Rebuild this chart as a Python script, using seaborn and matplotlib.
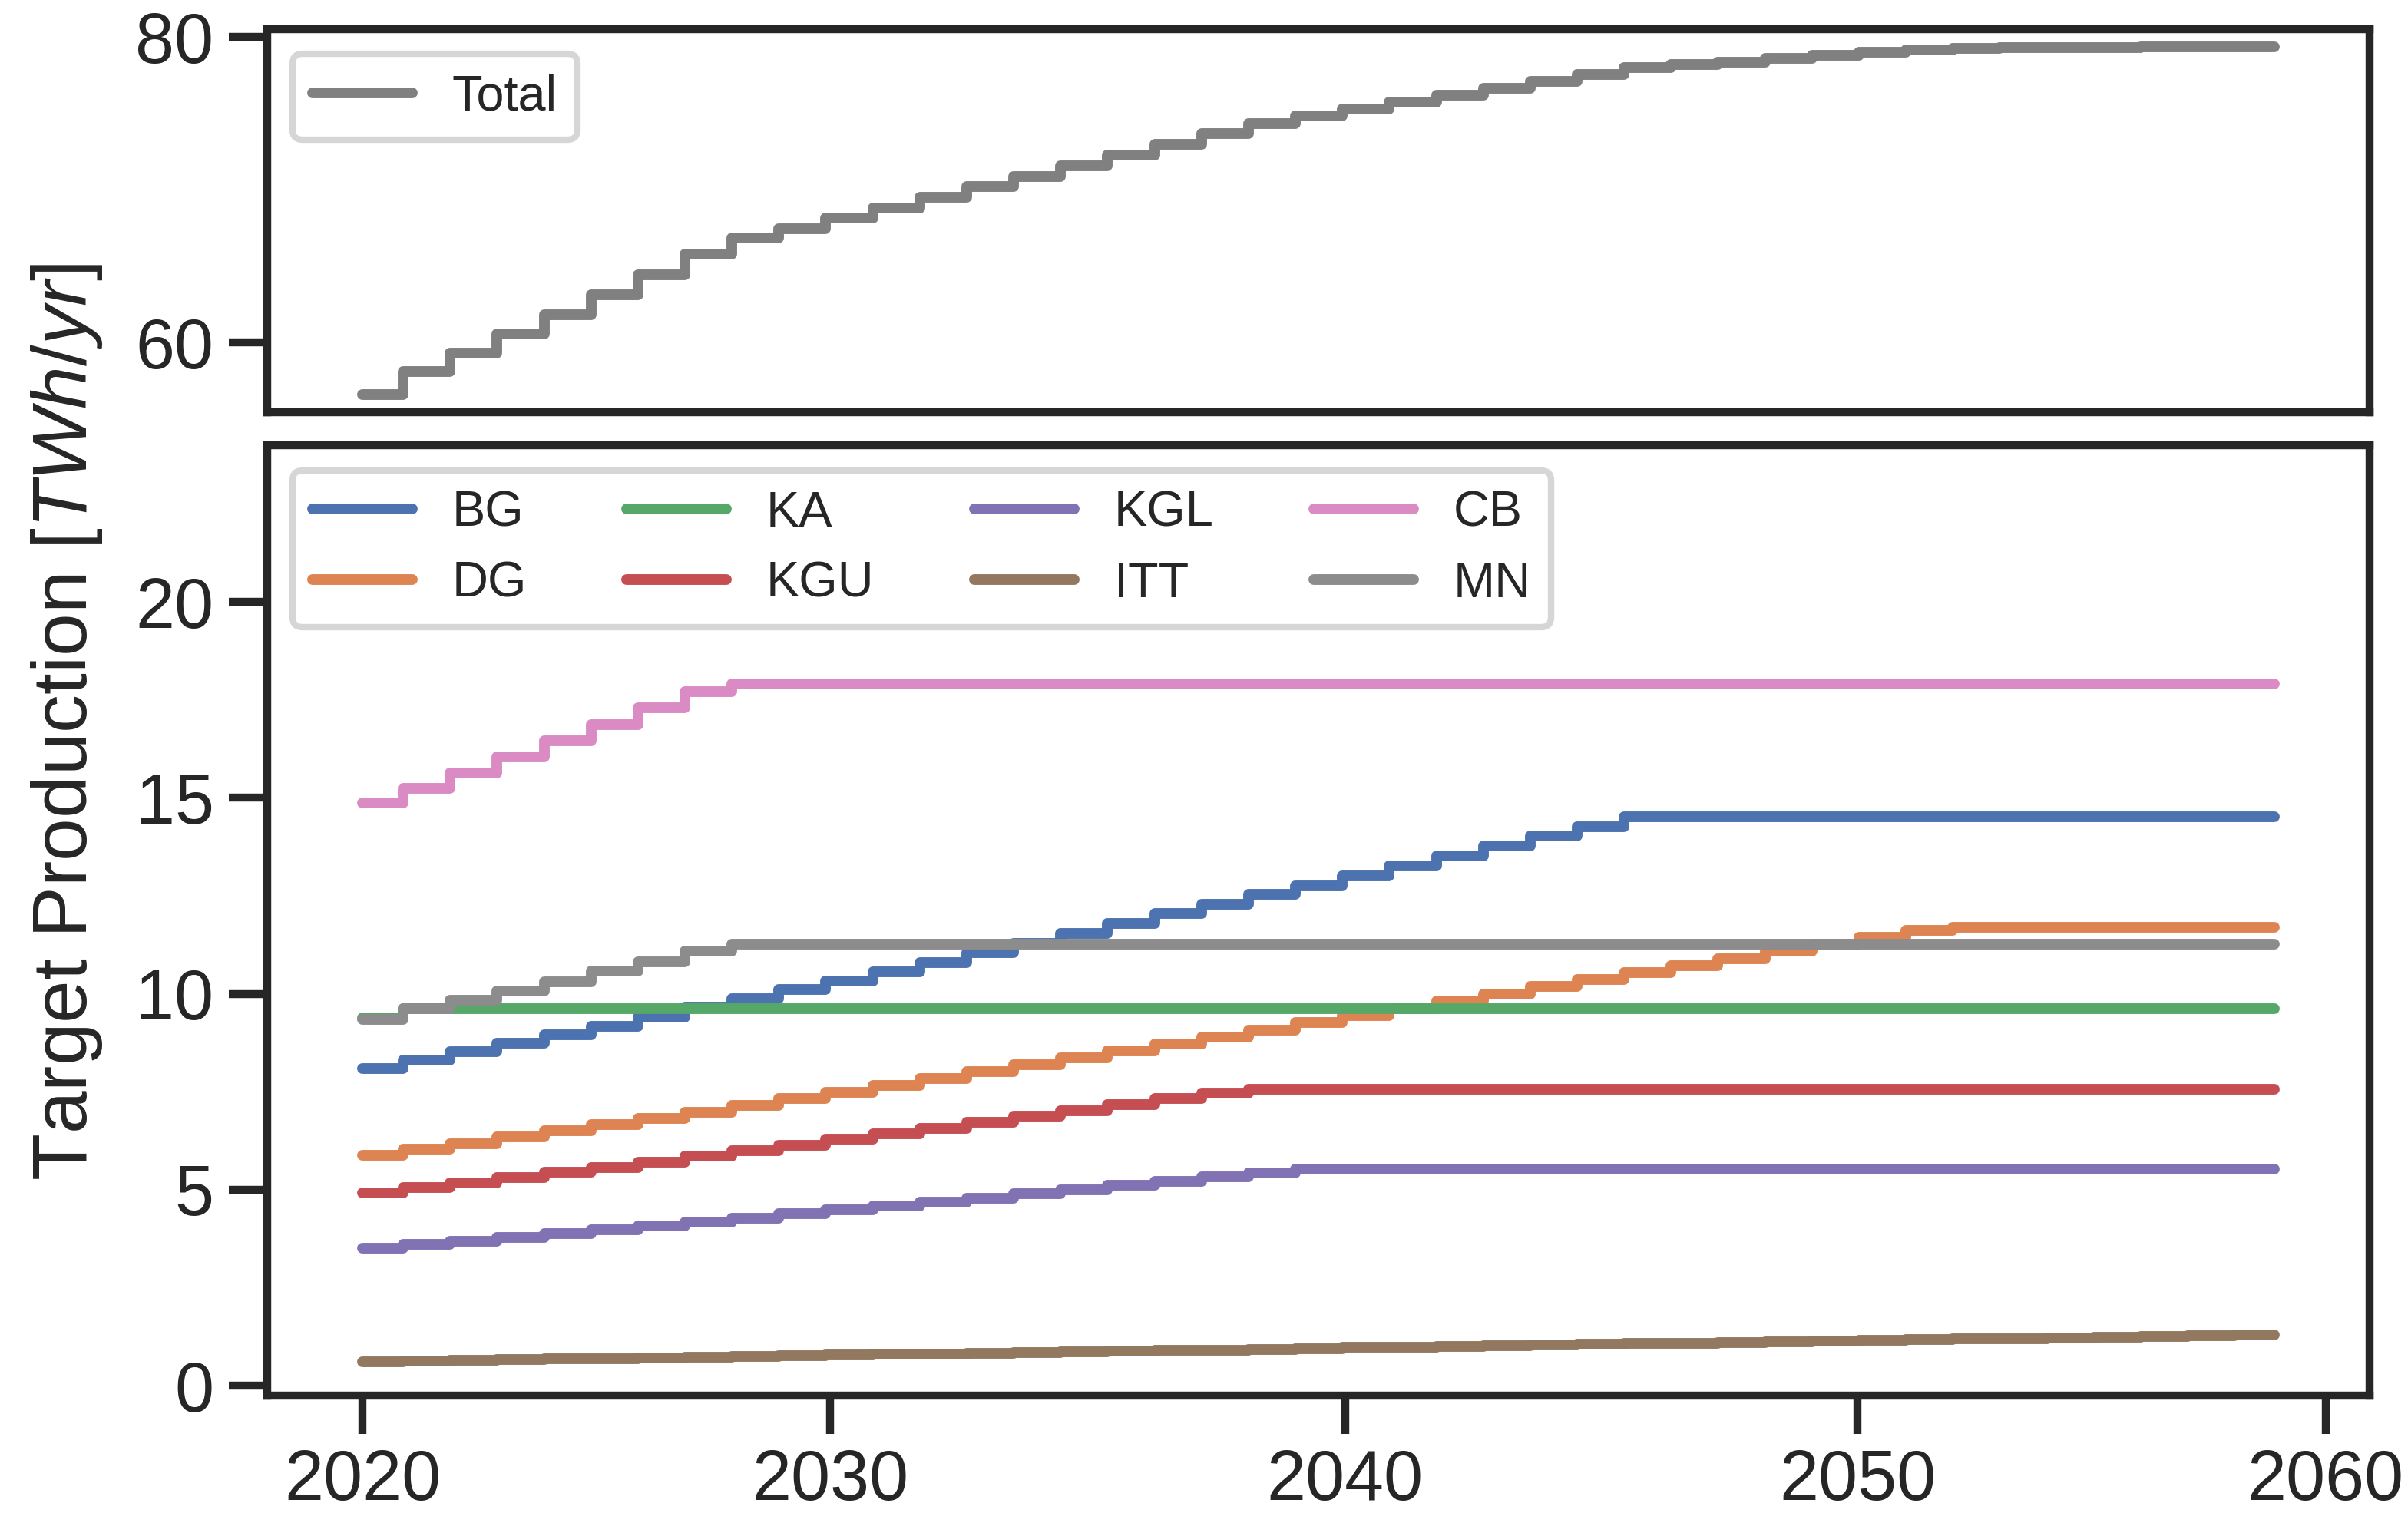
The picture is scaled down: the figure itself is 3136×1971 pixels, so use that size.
import numpy as np
import pandas as pd
import matplotlib
matplotlib.use("Agg")
import matplotlib.pyplot as plt
import seaborn as sns

# ---------------- data ----------------
# start of each annual step segment (41 segments) and end of the last one
seg_start = [2020.14] + list(range(2021, 2061))
seg_end = 2060.84

names = ["BG", "DG", "KA", "KGU", "KGL", "ITT", "CB", "MN"]

BG = [8.09, 8.30, 8.53, 8.74, 8.96, 9.17, 9.40, 9.65, 9.87, 10.10, 10.33, 10.56,
      10.80, 11.05, 11.29, 11.53, 11.79, 12.04, 12.29, 12.54, 12.76, 13.01, 13.26,
      13.52, 13.78, 14.03, 14.27] + [14.51] * 14
DG = [5.87, 6.04, 6.18, 6.35, 6.51, 6.66, 6.82, 6.98, 7.16, 7.32, 7.49, 7.67,
      7.84, 8.02, 8.19, 8.36, 8.54, 8.71, 8.90, 9.07, 9.26, 9.44, 9.62, 9.81,
      9.99, 10.18, 10.36, 10.54, 10.72, 10.89, 11.08, 11.27, 11.45, 11.62] + [11.70] * 7
KA = [9.38] + [9.61] * 40
KGU = [4.91, 5.05, 5.18, 5.30, 5.44, 5.57, 5.71, 5.86, 6.00, 6.13, 6.28, 6.43,
       6.57, 6.72, 6.87, 7.02, 7.17, 7.32, 7.46] + [7.57] * 22
KGL = [3.51, 3.61, 3.69, 3.78, 3.88, 3.98, 4.08, 4.18, 4.28, 4.38, 4.48, 4.58,
       4.69, 4.79, 4.90, 5.00, 5.11, 5.21, 5.32, 5.42] + [5.52] * 21
ITT = [0.61, 0.63, 0.64, 0.66, 0.68, 0.69, 0.71, 0.73, 0.74, 0.76, 0.78, 0.80,
       0.81, 0.83, 0.85, 0.86, 0.88, 0.90, 0.91, 0.93, 0.95, 0.97, 0.98, 1.00,
       1.02, 1.03, 1.05, 1.07, 1.08, 1.10, 1.12, 1.14, 1.15, 1.17, 1.19, 1.20,
       1.22, 1.24, 1.25, 1.27, 1.29]
CB = [14.87, 15.25, 15.64, 16.05, 16.45, 16.87, 17.30, 17.71] + [17.90] * 33
MN = [9.34, 9.61, 9.84, 10.07, 10.31, 10.57, 10.82, 11.08] + [11.27] * 33

series = {"BG": BG, "DG": DG, "KA": KA, "KGU": KGU, "KGL": KGL,
          "ITT": ITT, "CB": CB, "MN": MN}

tick_pos = [2020.14, 2030.09, 2041.06, 2051.97, 2061.94]
tick_labels = ["2020", "2030", "2040", "2050", "2060"]

# ---------------- tables ----------------
x_edges = seg_start + [seg_end]
rows = []
for n in names:
    v = series[n]
    for xx, yy in zip(x_edges, v + [v[-1]]):
        rows.append({"x": xx, "value": yy, "series": n})
df = pd.DataFrame(rows)

total = np.sum([np.array(series[n]) for n in names], axis=0)
df_tot = pd.DataFrame({"x": x_edges, "value": list(total) + [total[-1]]})

# ---------------- style ----------------
sns.set_theme(context="talk", style="ticks")
plt.rcParams["font.family"] = ["Liberation Sans", "DejaVu Sans"]
plt.rcParams["mathtext.fontset"] = "custom"
plt.rcParams["mathtext.it"] = "Liberation Sans:italic"
plt.rcParams["mathtext.rm"] = "Liberation Sans"

W, H = 3136, 1971
DPI = 400
fig = plt.figure(figsize=(W / DPI, H / DPI), dpi=DPI)

left = 348 / W
width = (3086 - 348) / W
ax_bot = fig.add_axes([left, 1 - 1818 / H, width, (1818 - 580) / H])
ax_top = fig.add_axes([left, 1 - 537 / H, width, (537 - 38) / H], sharex=ax_bot)

LW = 2.5
LEG_FS = 11.7

sns.lineplot(data=df_tot, x="x", y="value", color="gray", label="Total",
             drawstyle="steps-post", linewidth=LW, solid_capstyle="round",
             estimator=None, ax=ax_top)
ax_top.legend(loc="upper left", fontsize=LEG_FS)
ax_top.set_yticks([60, 80])
ax_top.set_xlabel("")
ax_top.set_ylabel("")
ax_top.tick_params(axis="x", bottom=False, labelbottom=False)

sns.lineplot(data=df, x="x", y="value", hue="series", hue_order=names,
             palette="deep", drawstyle="steps-post", linewidth=LW,
             solid_capstyle="round", estimator=None, ax=ax_bot)
sns.move_legend(ax_bot, "upper left", ncol=4, title=None, fontsize=LEG_FS,
                frameon=True)
ax_bot.set_ylim(top=24)
ax_bot.set_yticks([0, 5, 10, 15, 20])
ax_bot.set_xticks(tick_pos, tick_labels)
ax_bot.set_xlabel("")
ax_bot.set_ylabel("")

fig.text(0.0277, 0.523, "Target Production [$TWh/yr$]", rotation=90,
         ha="center", va="center", fontsize=18)

fig.savefig("out.png", dpi=DPI)
